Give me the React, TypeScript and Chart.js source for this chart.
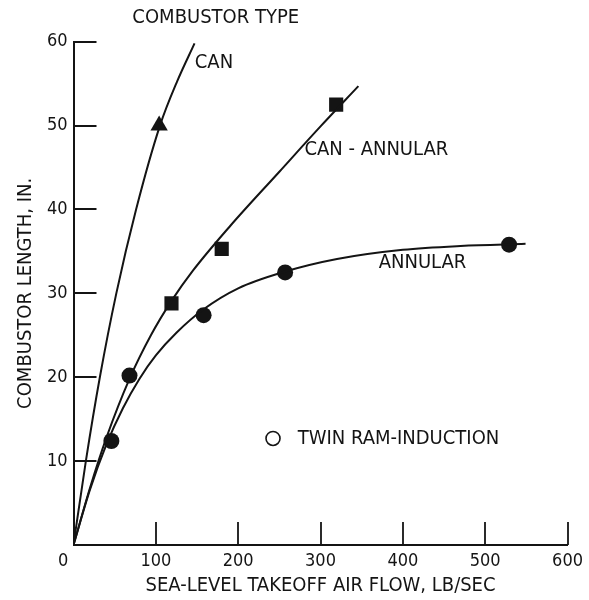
import React, { useEffect, useRef } from "react";
import { Chart, registerables } from "chart.js";

Chart.register(...registerables);

// ---- axis ticks ----
const xTicks = [0, 100, 200, 300, 400, 500, 600];
const yTicks = [0, 10, 20, 30, 40, 50, 60];

// ---- measured points ----
const canX = [104];
const canY = [50];
const canAnnularX = [119, 180, 319];
const canAnnularY = [28.8, 35.3, 52.5];
const annularX = [46, 68, 158, 257, 529];
const annularY = [12.4, 20.2, 27.4, 32.5, 35.8];

// ---- faired curves ----
const canFitX = [0, 15, 32, 52, 76, 105, 126, 147];
const canFitY = [0, 10, 20, 30, 40, 50, 55.3, 59.8];
const canAnnularFitX = [0, 20, 40, 68, 94, 119, 145, 190, 250, 300, 346];
const canAnnularFitY = [0, 6.8, 12.8, 19.8, 25.0, 29.1, 32.7, 38.0, 44.5, 49.9, 54.7];
const annularFitX = [0, 20, 40, 60, 80, 100, 125, 158, 200, 257, 320, 400, 470, 549];
const annularFitY = [0, 6.6, 12.0, 16.3, 19.8, 22.6, 25.3, 28.1, 30.6, 32.6, 34.1, 35.2, 35.65, 35.9];

// ---- text labels ----
const xTitle = "SEA-LEVEL TAKEOFF AIR FLOW, LB/SEC";
const yTitle = "COMBUSTOR LENGTH, IN.";
const labelTexts = ["COMBUSTOR TYPE", "CAN", "CAN - ANNULAR", "ANNULAR", "TWIN RAM-INDUCTION"];
const labelX = [71.5, 147.3, 280.4, 370.6, 272.3];
const labelY = [62.8, 57.5, 47.1, 33.6, 12.67];
const openMarkerX = [242.3];
const openMarkerY = [12.7];

const INK = "#141414";
const FAMILY = "'DejaVu Sans Condensed', 'Liberation Sans Narrow', sans-serif";

const zip = (xs: number[], ys: number[]) => xs.map((x, i) => ({ x, y: ys[i] }));

const annotationPlugin = {
  id: "annotations",
  afterDatasetsDraw(chart: any) {
    const { ctx, chartArea, scales } = chart;
    const xs = scales.x;
    const ys = scales.y;
    ctx.save();
    // inward tick marks
    ctx.strokeStyle = INK;
    ctx.lineWidth = 1.8;
    ctx.beginPath();
    xs.ticks.forEach((t: any) => {
      if (t.value === 0) return;
      const px = Math.round(xs.getPixelForValue(t.value));
      ctx.moveTo(px, chartArea.bottom);
      ctx.lineTo(px, chartArea.bottom - 23);
    });
    ys.ticks.forEach((t: any) => {
      if (t.value === 0) return;
      const py = Math.round(ys.getPixelForValue(t.value));
      ctx.moveTo(chartArea.left, py);
      ctx.lineTo(chartArea.left + 23, py);
    });
    ctx.stroke();
    // text labels
    ctx.fillStyle = INK;
    ctx.font = `20px ${FAMILY}`;
    ctx.textAlign = "left";
    ctx.textBaseline = "middle";
    labelTexts.forEach((txt, i) => {
      ctx.fillText(txt, xs.getPixelForValue(labelX[i]), ys.getPixelForValue(labelY[i]));
    });
    // open circle key
    ctx.lineWidth = 1.6;
    openMarkerX.forEach((mx, i) => {
      ctx.beginPath();
      ctx.arc(xs.getPixelForValue(mx), ys.getPixelForValue(openMarkerY[i]), 7, 0, Math.PI * 2);
      ctx.stroke();
    });
    ctx.restore();
  },
};

export default function App() {
  const ref = useRef<HTMLCanvasElement | null>(null);
  useEffect(() => {
    document.body.style.margin = "0";
    const canvas = ref.current;
    if (!canvas) return;
    const lineDs = (xs: number[], ys: number[]) => ({
      data: zip(xs, ys),
      showLine: true,
      borderColor: INK,
      borderWidth: 2,
      pointRadius: 0,
      fill: false,
      cubicInterpolationMode: "monotone" as const,
    });
    const chart = new Chart(canvas, {
      type: "scatter",
      data: {
        datasets: [
          lineDs(canFitX, canFitY),
          lineDs(canAnnularFitX, canAnnularFitY),
          lineDs(annularFitX, annularFitY),
          {
            data: zip(canX, canY),
            pointStyle: "triangle",
            pointRadius: 10,
            backgroundColor: INK,
            borderWidth: 0,
            showLine: false,
          },
          {
            data: zip(canAnnularX, canAnnularY),
            pointStyle: "rect",
            pointRadius: 10,
            backgroundColor: INK,
            borderWidth: 0,
            showLine: false,
          },
          {
            data: zip(annularX, annularY),
            pointStyle: "circle",
            pointRadius: 8,
            backgroundColor: INK,
            borderWidth: 0,
            showLine: false,
          },
        ] as any,
      },
      options: {
        responsive: false,
        animation: false,
        devicePixelRatio: 1,
        layout: { padding: { left: 0, right: 16.5, top: 41.7, bottom: 0 } },
        plugins: { legend: { display: false }, tooltip: { enabled: false } },
        scales: {
          x: {
            type: "linear",
            min: 0,
            max: 600,
            afterBuildTicks: (s: any) => {
              s.ticks = xTicks.map((v) => ({ value: v }));
            },
            afterFit: (s: any) => {
              s.height = 55;
            },
            ticks: {
              autoSkip: false,
              maxRotation: 0,
              padding: 6,
              color: INK,
              font: { family: FAMILY, size: 18 },
              callback: (v: any) => (v === 0 ? "0    " : String(v)),
            },
            grid: { display: false, drawTicks: false },
            border: { display: true, color: INK, width: 2 },
            title: {
              display: true,
              text: xTitle,
              color: INK,
              font: { family: FAMILY, size: 20 },
              padding: { top: 0, bottom: 2 },
            },
          },
          y: {
            type: "linear",
            min: 0,
            max: 60,
            afterBuildTicks: (s: any) => {
              s.ticks = yTicks.map((v) => ({ value: v }));
            },
            afterFit: (s: any) => {
              s.width = 73.5;
            },
            ticks: {
              autoSkip: false,
              padding: 6,
              color: INK,
              font: { family: FAMILY, size: 18 },
              callback: (v: any) => (v === 0 ? "" : String(v)),
            },
            grid: { display: false, drawTicks: false },
            border: { display: true, color: INK, width: 2 },
            title: {
              display: true,
              text: yTitle,
              color: INK,
              font: { family: FAMILY, size: 20 },
              padding: { top: 14, bottom: 0 },
            },
          },
        },
      } as any,
      plugins: [annotationPlugin],
    });
    return () => chart.destroy();
  }, []);
  return (
    <div style={{ width: 589, height: 600 }}>
      <canvas ref={ref} width={589} height={600} style={{ display: "block" }} />
    </div>
  );
}
